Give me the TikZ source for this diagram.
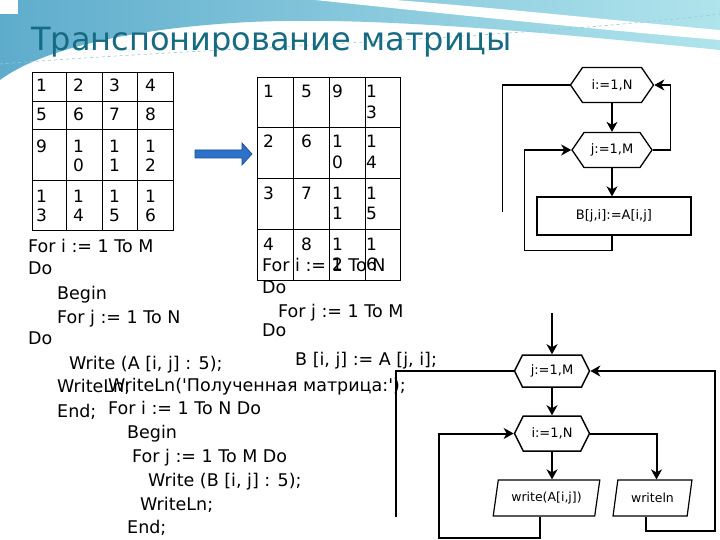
\documentclass[tikz,border=0pt]{standalone}
\usepackage{fontspec}
\setmainfont{DejaVu Sans}[Ligatures=TeXOff]
\usetikzlibrary{arrows.meta,shapes.symbols,shapes.geometric}
\definecolor{titleteal}{RGB}{22,106,130}
\definecolor{wavedeep}{RGB}{94,172,204}
\definecolor{wavelight}{RGB}{176,228,236}
\definecolor{waveline}{RGB}{150,200,215}
\definecolor{arrowfill}{RGB}{44,114,200}
\definecolor{arrowedge}{RGB}{28,74,146}
\begin{document}
\begin{tikzpicture}[x=1pt,y=-1pt,
  codeline/.style={anchor=base west,inner sep=0pt,font=\fontsize{17.5}{20}\selectfont},
  cell/.style={anchor=base west,inner sep=0pt,font=\fontsize{17}{19}\selectfont},
  gridline/.style={line width=0.8pt},
  hexbox/.style={draw,shape=signal,signal to=east and west,inner sep=0pt,font=\fontsize{13}{15}\selectfont},
  iobox/.style={draw,trapezium,trapezium left angle=73,trapezium right angle=107,
    trapezium stretches=true,inner sep=0pt,minimum height=36pt,font=\fontsize{12.5}{14}\selectfont},
  flowline/.style={line width=1.3pt},
  flowarrow/.style={flowline,-{Stealth[length=10pt,width=11pt,inset=3pt]}}
]
\useasboundingbox (0,0) rectangle (720,540);

% background wave
\fill[white] (0,0) rectangle (720,540);
\shade[left color=wavedeep,right color=wavelight]
  (0,0) -- (720,0) -- (720,50) .. controls (560,34) and (380,16) .. (250,22)
  .. controls (130,28) and (40,50) .. (0,80) -- cycle;
\fill[white] (315,0) -- (395,0) .. controls (500,8) and (630,22) .. (720,30)
  -- (720,40) .. controls (600,30) and (430,12) .. (315,0) -- cycle;
\fill[white] (0,0) rectangle (18,14);
\draw[waveline,dashed,line width=0.6pt] (0,64) .. controls (200,48) and (500,40) .. (720,14);

\node[anchor=base west,inner sep=0pt,text=titleteal,font=\fontsize{32}{36}\selectfont]
  (title) at (31,51) {Транспонирование матрицы};

% matrix A
\draw[gridline] (32,72) rectangle (173,230);
\foreach \gx in {66,102,137} \draw[gridline] (\gx,72) -- (\gx,230);
\foreach \gy in {101,129,180} \draw[gridline] (32,\gy) -- (173,\gy);
\foreach \ry/\va/\vb/\vc/\vd [count=\r] in {92/1/2/3/4,121/5/6/7/8,153/9/1/1/1,203/1/1/1/1}{
  \node[cell] (a\r-1) at (36,\ry) {\va};
  \node[cell] (a\r-2) at (73,\ry) {\vb};
  \node[cell] (a\r-3) at (109,\ry) {\vc};
  \node[cell] (a\r-4) at (145,\ry) {\vd};
}
\node[cell] (a3-2b) at (73,172) {0};
\node[cell] (a3-3b) at (109,172) {1};
\node[cell] (a3-4b) at (145,172) {2};
\node[cell] (a4-1b) at (36,222) {3};
\node[cell] (a4-2b) at (73,222) {4};
\node[cell] (a4-3b) at (109,222) {5};
\node[cell] (a4-4b) at (145,222) {6};

% arrow between the matrices
\draw[arrowedge,fill=arrowfill,line width=0.7pt]
  (195,150) -- (242,150) -- (242,143) -- (252,154) -- (242,165) -- (242,158) -- (195,158) -- cycle;

% matrix B
\draw[gridline] (257,77) rectangle (400,280);
\foreach \gx in {293,329,365} \draw[gridline] (\gx,77) -- (\gx,280);
\foreach \gy in {127,178,229} \draw[gridline] (257,\gy) -- (400,\gy);
\foreach \ry/\va/\vb/\vc/\vd [count=\r] in {98/1/5/9/1,148/2/6/1/1,200/3/7/1/1,250/4/8/1/1}{
  \node[cell] (b\r-1) at (263,\ry) {\va};
  \node[cell] (b\r-2) at (301,\ry) {\vb};
  \node[cell] (b\r-3) at (332,\ry) {\vc};
  \node[cell] (b\r-4) at (366,\ry) {\vd};
}
\node[cell] (b1-4b) at (366,119) {3};
\foreach \ry/\vc/\vd [count=\r from 2] in {169/0/4,220/1/5,270/2/6}{
  \node[cell] (b\r-3b) at (332,\ry) {\vc};
  \node[cell] (b\r-4b) at (366,\ry) {\vd};
}

% input loop
\node[codeline] (forA) at (28,252) {For i := 1 To M};
\node[codeline] (doA) at (28,274) {Do};
\node[codeline] (beginA) at (57,299) {Begin};
\node[codeline] (forjA) at (57,323) {For j := 1 To N};
\node[codeline] (dojA) at (28,344) {Do};
\node[codeline] (writeA) at (69,369) {Write (A [i, j] : 5);};
\node[codeline] (writelnA) at (57,392) {WriteLn;};
\node[codeline] (endA) at (57,417) {End;};

% transposition loop
\node[codeline] (foriB) at (262,271) {For i := 1 To N};
\node[codeline] (doiB) at (262,293) {Do};
\node[codeline] (forjB) at (278,317) {For j := 1 To M};
\node[codeline] (dojB) at (262,336) {Do};
\node[codeline] (assignB) at (295,365) {B [i, j] := A [j, i];};

% output loop
\node[codeline] (printhead) at (108,391) {WriteLn('Полученная матрица:');};
\node[codeline] (foriC) at (108,414) {For i := 1 To N Do};
\node[codeline] (beginC) at (127,438) {Begin};
\node[codeline] (forjC) at (132,462) {For j := 1 To M Do};
\node[codeline] (writeC) at (148,486) {Write (B [i, j] : 5);};
\node[codeline] (writelnC) at (140,510) {WriteLn;};
\node[codeline] (endC) at (127,533) {End;};

% flowchart of the transposition
\node[hexbox,flowline,minimum width=83pt,minimum height=35pt,signal pointer angle=111]
  (tI) at (612,85) {i:=1,N};
\node[hexbox,flowline,minimum width=80pt,minimum height=35pt,signal pointer angle=111]
  (tJ) at (612,150) {j:=1,M};
\node[draw,flowline,minimum width=154pt,minimum height=38pt,inner sep=0pt,
  font=\fontsize{13}{15}\selectfont] (tAssign) at (614,216) {B[j,i]:=A[i,j]};
\draw[flowarrow] (tI.south) -- (tJ.north);
\draw[flowarrow] (tJ.south) -- (tJ.south |- tAssign.north);
\draw[flowarrow] (tJ.east) -- ++(18,0) |- (tI.east);
\draw[flowarrow] (tJ.south |- tAssign.south) -- ++(0,15) -| ([xshift=-47pt]tJ.west) -- (tJ.west);
\draw[flowline] (tI.west) -- ++(-67,0) -- ++(0,127) coordinate (tOut);

% flowchart of the output
\coordinate (bIn) at (552,313);
\node[hexbox,line width=1.5pt,minimum width=75pt,minimum height=32pt,signal pointer angle=127]
  (bJ) at (552,371) {j:=1,M};
\node[hexbox,line width=1.5pt,minimum width=75pt,minimum height=35pt,signal pointer angle=127]
  (bI) at (552,433.5) {i:=1,N};
\node[iobox,line width=1.2pt,minimum width=107pt] (bWrite) at (546.5,498) {write(A[i,j])};
\node[iobox,line width=1.2pt,minimum width=79pt] (bWriteln) at (652.5,498) {writeln};
\draw[flowarrow,line width=2pt] (bIn) -- (bJ.north);
\draw[flowarrow,line width=2pt] (bJ.south) -- (bI.north);
\draw[flowarrow,line width=2pt] (bI.south) -- (bI.south |- bWrite.north);
\draw[flowarrow,line width=2pt] (bI.east) -| ([xshift=4pt]bWriteln.north);
\draw[flowarrow,line width=2pt] ([xshift=-7pt]bWrite.south) -- ++(0,21) -| ([xshift=-75pt]bI.west) -- (bI.west);
\draw[flowarrow,line width=2pt] ([xshift=-7pt]bWriteln.south) -- ++(0,14) -| ([xshift=125pt]bJ.east) -- (bJ.east);
\draw[flowline,line width=2pt] (bJ.west) -- ++(-118,0) -- ++(0,146) coordinate (bOut);
\end{tikzpicture}
\end{document}
